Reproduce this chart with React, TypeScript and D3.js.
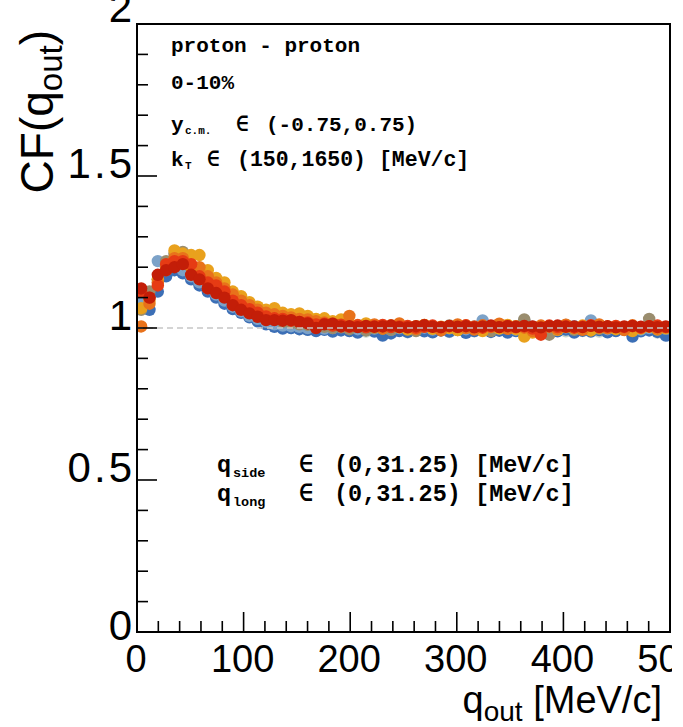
import React from 'react';
import * as d3 from 'd3';

// ---- axis definitions ----
const X_DOMAIN = [0, 500];
const Y_DOMAIN = [0, 2];
const X_MAJOR = [0, 100, 200, 300, 400, 500];
const X_MINOR_STEP = 20;
const Y_MAJOR = [0, 0.5, 1, 1.5, 2];
const Y_MINOR_STEP = 0.1;
const N_BINS = 64;
const BIN_WIDTH = 500 / N_BINS;

// ---- series values, CF per q_out bin (bin width 7.8125 MeV/c) ----
const paleGreen = [
  1.07, 1.11, 1.15, 1.18, 1.19, 1.20, 1.18, 1.16, 1.14, 1.115, 1.095, 1.075, 1.055, 1.042, 1.03, 1.02,
  1.01, 1.004, 1.0, 0.996, 0.994, 0.992, 0.996, 0.99, 0.994, 0.99, 0.995, 0.988, 0.993, 0.997, 0.989, 0.994,
  0.986, 0.992, 0.996, 0.99, 0.995, 0.987, 0.993, 0.998, 0.989, 0.994, 0.991, 0.996, 0.988, 0.993, 0.99, 0.995,
  0.987, 0.992, 0.997, 0.989, 0.994, 0.99, 0.996, 0.988, 0.993, 0.991, 0.995, 0.987, 0.992, 0.996, 0.985, 0.99,
];
const blue = [
  1.10, 1.06, 1.12, 1.17, 1.19, 1.18, 1.16, 1.14, 1.12, 1.10, 1.08, 1.062, 1.05, 1.035, 1.022, 1.012,
  1.004, 0.998, 1.0, 0.996, 0.994, 0.99, 0.994, 0.988, 0.992, 0.99, 0.985, 0.993, 0.988, 0.975, 0.982, 0.99,
  0.987, 0.994, 0.989, 0.986, 0.992, 0.988, 0.995, 0.984, 0.99, 0.993, 0.987, 0.991, 0.985, 0.99, 0.994, 0.988,
  0.986, 0.992, 0.989, 0.995, 0.985, 0.991, 0.988, 0.993, 0.986, 0.99, 0.994, 0.972, 0.989, 0.992, 0.987, 0.975,
];
const steelBlue = [
  1.08, 1.10, 1.22, 1.20, 1.21, 1.19, 1.17, 1.15, 1.13, 1.11, 1.09, 1.07, 1.055, 1.04, 1.03, 1.02,
  1.012, 1.008, 1.006, 1.004, 1.0, 1.002, 0.998, 1.0, 1.004, 1.0, 0.996, 1.004, 0.998, 1.002, 0.994, 1.0,
  1.005, 0.997, 1.001, 0.995, 1.003, 0.999, 1.006, 0.996, 1.002, 1.025, 1.0, 0.998, 1.003, 0.995, 1.025, 1.004,
  0.997, 1.0, 0.994, 1.002, 1.006, 1.0, 1.025, 1.003, 0.996, 1.001, 0.999, 1.004, 0.995, 1.0, 1.002, 0.997,
];
const taupe = [
  1.06, 1.12, 1.16, 1.22, 1.245, 1.25, 1.20, 1.19, 1.16, 1.14, 1.12, 1.095, 1.075, 1.06, 1.048, 1.035,
  1.028, 1.02, 1.016, 1.012, 1.01, 1.006, 1.004, 1.0, 1.002, 0.996, 1.004, 0.992, 1.0, 1.006, 0.994, 1.002,
  0.998, 0.99, 1.004, 1.0, 0.996, 1.008, 0.993, 1.001, 1.005, 0.997, 0.99, 1.003, 0.999, 1.006, 1.028, 1.002,
  0.996, 0.978, 0.998, 1.01, 0.994, 1.0, 1.004, 0.997, 1.0, 0.999, 1.003, 0.995, 1.001, 1.03, 1.0, 0.998,
];
const yellow = [
  1.065, 1.09, 1.16, 1.20, 1.255, 1.245, 1.24, 1.24, 1.19, 1.165, 1.15, 1.12, 1.105, 1.085, 1.07, 1.06,
  1.065, 1.05, 1.045, 1.048, 1.04, 1.03, 1.032, 1.022, 1.028, 1.012, 1.006, 1.015, 1.003, 0.998, 1.008, 1.002,
  0.995, 1.006, 1.01, 0.997, 1.004, 1.0, 0.993, 1.008, 1.003, 0.99, 1.005, 0.998, 1.01, 0.996, 0.972, 0.985,
  1.0, 1.006, 0.994, 1.003, 0.999, 1.008, 0.992, 1.001, 1.005, 0.996, 1.003, 0.99, 0.998, 1.004, 0.995, 1.0,
];
const orange = [
  1.005, 1.08, 1.15, 1.19, 1.23, 1.23, 1.20, 1.20, 1.17, 1.15, 1.13, 1.11, 1.09, 1.075, 1.06, 1.05,
  1.045, 1.04, 1.035, 1.03, 1.028, 1.022, 1.018, 1.015, 1.012, 1.04, 1.01, 1.005, 1.012, 0.998, 1.008, 1.015,
  1.002, 0.996, 1.01, 1.004, 0.992, 1.006, 1.012, 1.0, 0.995, 1.009, 1.003, 1.014, 0.997, 1.006, 1.001, 0.99,
  1.008, 1.004, 0.996, 1.011, 1.002, 0.994, 1.007, 1.012, 0.999, 1.004, 0.993, 1.009, 1.001, 1.006, 0.997, 1.003,
];
const redOrange = [
  1.12, 1.10, 1.14, 1.21, 1.22, 1.22, 1.21, 1.17, 1.15, 1.14, 1.12, 1.09, 1.075, 1.062, 1.05, 1.038,
  1.032, 1.03, 1.024, 1.02, 1.018, 1.012, 1.014, 1.008, 1.01, 1.004, 1.008, 1.002, 1.006, 1.01, 1.003, 1.005,
  1.007, 1.001, 1.004, 1.008, 1.002, 1.006, 1.003, 1.009, 1.004, 1.001, 1.006, 1.003, 1.007, 1.002, 1.005, 0.998,
  0.978, 1.008, 1.003, 1.006, 1.001, 1.005, 1.009, 1.002, 1.004, 1.007, 1.003, 1.006, 1.001, 1.005, 1.008, 1.003,
];
const darkRed = [
  1.13, 1.10, 1.175, 1.19, 1.20, 1.21, 1.175, 1.16, 1.13, 1.115, 1.10, 1.075, 1.06, 1.048, 1.037, 1.026,
  1.026, 1.024, 1.026, 1.02, 1.015, 1.0, 1.012, 1.014, 1.005, 1.006, 1.003, 1.007, 1.004, 1.005, 1.008, 1.003,
  1.002, 1.006, 1.009, 1.004, 1.003, 1.007, 1.004, 1.006, 1.002, 1.005, 1.008, 1.003, 1.006, 1.004, 1.007, 1.005,
  1.002, 1.006, 1.008, 1.004, 1.005, 1.003, 1.007, 1.004, 1.006, 1.002, 1.005, 1.007, 1.004, 1.006, 1.003, 1.005,
];

const SERIES = [
  { values: paleGreen, color: '#c6d4cb' },
  { values: blue, color: '#3c6fb6' },
  { values: steelBlue, color: '#7ca2c8' },
  { values: taupe, color: '#9a8d6e' },
  { values: yellow, color: '#e9a11d' },
  { values: orange, color: '#e8721b' },
  { values: redOrange, color: '#e63b14' },
  { values: darkRed, color: '#c31e08' },
];

const MONO = "'Courier New', 'Liberation Mono', monospace";
const SANS = "'Liberation Sans', Arial, Helvetica, sans-serif";

export default function App() {
  const L = 137, R = 670, T = 24, B = 632;
  const x = d3.scaleLinear().domain(X_DOMAIN).range([L, R]);
  const y = d3.scaleLinear().domain(Y_DOMAIN).range([B, T]);
  const qCenters = d3.range(N_BINS).map((i) => (i + 0.5) * BIN_WIDTH);

  const xMinor = d3.range(X_DOMAIN[0], X_DOMAIN[1] + 0.001, X_MINOR_STEP).filter((v) => !X_MAJOR.includes(v));
  const yMinor = d3
    .range(0, 21)
    .map((i) => +(i * Y_MINOR_STEP).toFixed(2))
    .filter((v) => !Y_MAJOR.includes(v));

  const yLabelOffset = (i: number) => (i === 0 ? 8 : i === Y_MAJOR.length - 1 ? -2 : 2);

  return (
    <svg width={683} height={727} style={{ position: 'absolute', left: 0, top: 0, background: '#fff' }}>
      <defs>
        <clipPath id="frameClip">
          <rect x={L} y={T} width={R - L} height={B - T} />
        </clipPath>
        <clipPath id="pageClip">
          <rect x={0} y={0} width={672} height={727} />
        </clipPath>
      </defs>
      <rect x={0} y={0} width={683} height={727} fill="#fff" />

      <g clipPath="url(#frameClip)">
        {SERIES.map((s, si) => (
          <g key={si}>
            {s.values.map((v, i) => (
              <circle key={i} cx={x(qCenters[i])} cy={y(v)} r={6.2} fill={s.color} />
            ))}
          </g>
        ))}
        <line x1={x(0)} x2={x(500)} y1={y(1)} y2={y(1)} stroke="#c6c6c6" strokeWidth={1.6} strokeDasharray="6 4" />
      </g>

      {/* frame */}
      <rect x={L} y={T} width={R - L} height={B - T} fill="none" stroke="#000" strokeWidth={2} />

      {/* y ticks */}
      {Y_MAJOR.map((v) => (
        <line key={'ym' + v} x1={L} x2={L + 20} y1={y(v)} y2={y(v)} stroke="#000" strokeWidth={1.6} />
      ))}
      {yMinor.map((v) => (
        <line key={'yn' + v} x1={L} x2={L + 11} y1={y(v)} y2={y(v)} stroke="#000" strokeWidth={1.6} />
      ))}
      {/* x ticks */}
      {X_MAJOR.map((v) => (
        <line key={'xm' + v} x1={x(v)} x2={x(v)} y1={B} y2={B - 20} stroke="#000" strokeWidth={1.6} />
      ))}
      {xMinor.map((v) => (
        <line key={'xn' + v} x1={x(v)} x2={x(v)} y1={B} y2={B - 11} stroke="#000" strokeWidth={1.6} />
      ))}

      {/* y tick labels */}
      {Y_MAJOR.map((v, i) => (
        <text
          key={'yl' + v}
          x={L - 2}
          y={y(v) + yLabelOffset(i)}
          textAnchor="end"
          fontFamily={SANS}
          fontSize={42}
          letterSpacing={3}
          fill="#000"
        >
          {String(v)}
        </text>
      ))}

      {/* x tick labels */}
      <g clipPath="url(#pageClip)">
        {X_MAJOR.map((v) => (
          <text key={'xl' + v} x={x(v) - 1} y={672} textAnchor="middle" fontFamily={SANS} fontSize={38} fill="#000">
            {String(v)}
          </text>
        ))}
      </g>

      {/* axis titles */}
      <text x={662} y={713} textAnchor="end" fontFamily={SANS} fontSize={38} fill="#000">
        <tspan>q</tspan>
        <tspan fontSize={28} dy={8}>out</tspan>
        <tspan dy={-8}> [MeV/c]</tspan>
      </text>
      <text transform="translate(53,30) rotate(-90)" textAnchor="end" fontFamily={SANS} fontSize={46} fill="#000">
        <tspan>CF(q</tspan>
        <tspan fontSize={33} dy={9}>out</tspan>
        <tspan dy={-9}>)</tspan>
      </text>

      {/* annotations */}
      <g fontFamily={MONO} fontWeight="bold" fill="#000">
        <text x={171} y={52} fontSize={21}>proton - proton</text>
        <text x={171} y={89} fontSize={21}>0-10%</text>
        <text x={171} y={131} fontSize={21}>y</text>
        <text x={185} y={134} fontSize={11}>c.m.</text>
        <text x={236} y={131} fontSize={21}>∈</text>
        <text x={266} y={131} fontSize={21}>(-0.75,0.75)</text>
        <text x={171} y={166} fontSize={21}>k</text>
        <text x={185} y={169} fontSize={11}>T</text>
        <text x={207} y={166} fontSize={21}>∈</text>
        <text x={237} y={166} fontSize={21.5}>(150,1650) [MeV/c]</text>

        <text x={217} y={472} fontSize={23.5}>q</text>
        <text x={233} y={477} fontSize={13.5}>side</text>
        <text x={299} y={472} fontSize={23.5}>∈</text>
        <text x={334} y={472} fontSize={23.5}>(0,31.25) [MeV/c]</text>
        <text x={217} y={501} fontSize={23.5}>q</text>
        <text x={233} y={506} fontSize={13.5}>long</text>
        <text x={299} y={501} fontSize={23.5}>∈</text>
        <text x={334} y={501} fontSize={23.5}>(0,31.25) [MeV/c]</text>
      </g>
    </svg>
  );
}
